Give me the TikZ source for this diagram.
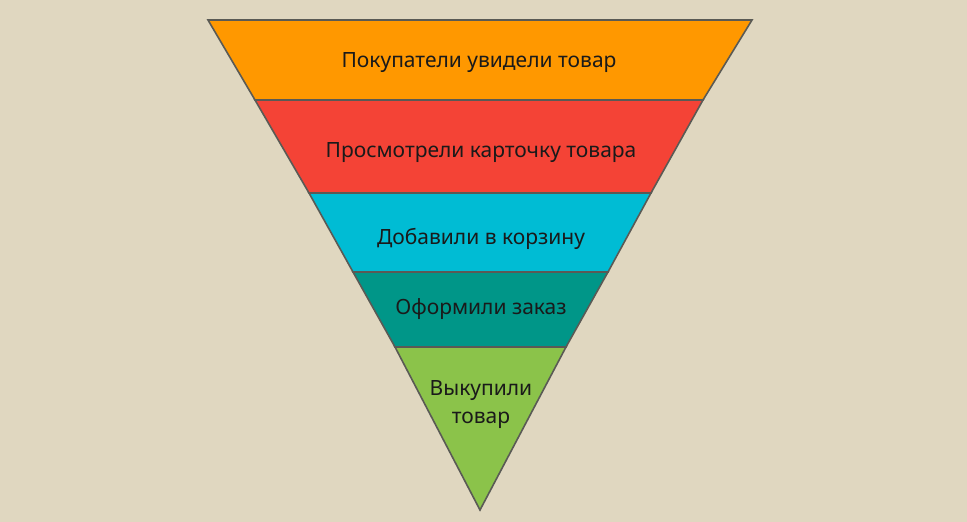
\documentclass[tikz,border=0pt]{standalone}
\usepackage{fontspec}
\setmainfont{Noto Sans}
\definecolor{bgc}{HTML}{E0D7C0}
\definecolor{c1}{HTML}{FF9800}
\definecolor{c2}{HTML}{F44336}
\definecolor{c3}{HTML}{00BCD4}
\definecolor{c4}{HTML}{009688}
\definecolor{c5}{HTML}{8BC34A}
\definecolor{edge}{HTML}{5A5A55}
\definecolor{txt}{HTML}{1A1A1A}
\tikzset{
  band/.style={draw=edge, line width=1.6pt, line join=miter},
  lbl/.style={text=txt, font=\fontsize{21}{28}\selectfont, align=center, inner sep=0pt}
}
\begin{document}
\begin{tikzpicture}[x=1pt,y=-1pt]
\fill[bgc] (0,0) rectangle (967,522);
\useasboundingbox (0,0) rectangle (967,522);
\coordinate (L0) at (208,20);  \coordinate (R0) at (752,20);
\coordinate (L1) at (255,100); \coordinate (R1) at (703,100);
\coordinate (L2) at (309,193); \coordinate (R2) at (651,193);
\coordinate (L3) at (353,272); \coordinate (R3) at (608,272);
\coordinate (L4) at (395,347); \coordinate (R4) at (566,347);
\coordinate (A)  at (480,510);
\filldraw[band, fill=c1] (L0) -- (R0) -- (R1) -- (L1) -- cycle;
\filldraw[band, fill=c2] (L1) -- (R1) -- (R2) -- (L2) -- cycle;
\filldraw[band, fill=c3] (L2) -- (R2) -- (R3) -- (L3) -- cycle;
\filldraw[band, fill=c4] (L3) -- (R3) -- (R4) -- (L4) -- cycle;
\filldraw[band, fill=c5] (L4) -- (R4) -- (A) -- cycle;
\node[lbl] (t1) at (479,63) {Покупатели увидели товар};
\node[lbl] (t2) at (481,153) {Просмотрели карточку товара};
\node[lbl] (t3) at (481,239) {Добавили в корзину};
\node[lbl] (t4) at (481,309) {Оформили заказ};
\node[lbl] (t5) at (481,405) {Выкупили\\товар};
\end{tikzpicture}
\end{document}
